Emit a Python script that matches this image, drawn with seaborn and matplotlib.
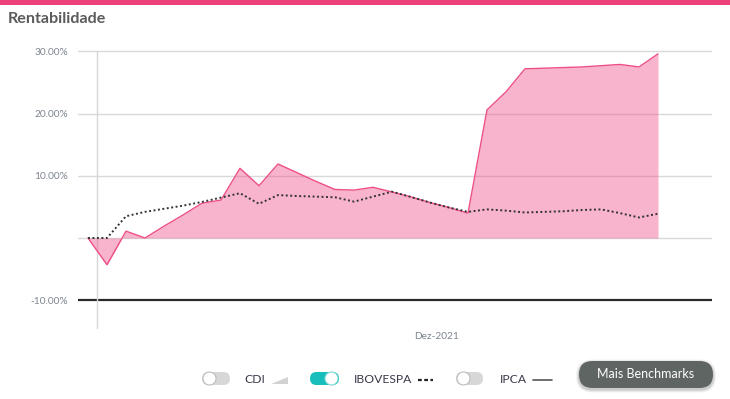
import matplotlib
matplotlib.use("Agg")
import matplotlib.pyplot as plt
import seaborn as sns
import pandas as pd
from matplotlib.patches import FancyBboxPatch, Circle, Polygon, Rectangle

# ---------------- data ----------------
fund_returns = [0, -4.3, 1.1, 0, 1.9, 3.7, 5.6, 6.1, 11.2, 8.4, 11.9, 10.5, 9.1,
                7.8, 7.7, 8.15, 7.4, 6.6, 5.7, 4.9, 4.0, 20.6, 23.5, 27.2, 27.3,
                27.4, 27.5, 27.7, 27.9, 27.5, 29.6]
ibovespa = [0, 0, 3.5, 4.2, 4.7, 5.2, 5.8, 6.5, 7.2, 5.5, 6.9, 6.75, 6.65, 6.55,
            5.85, 6.65, 7.45, 6.6, 5.7, 4.9, 4.2, 4.6, 4.4, 4.1, 4.2, 4.3, 4.5,
            4.6, 4.0, 3.3, 3.9]
y_ticks = [30, 20, 10, 0, -10]
y_tick_labels = ["30.00%", "20.00%", "10.00%", "", "-10.00%"]
x_tick_label = ["Dez-2021"]
legend_items = ["CDI", "IBOVESPA", "IPCA"]
title = "Rentabilidade"
button_text = "Mais Benchmarks"

df = pd.DataFrame({"i": range(len(fund_returns)), "fund": fund_returns, "ibov": ibovespa})

# ---------------- figure ----------------
sns.set_style("white")
plt.rcParams["font.family"] = ["Lato", "DejaVu Sans"]

W, H = 730, 399
fig = plt.figure(figsize=(W / 100, H / 100), dpi=100)

# main axes in pixel geometry
ax_left, ax_right, ax_top, ax_bottom = 78, 712, 44.8, 330
ax = fig.add_axes([ax_left / W, (H - ax_bottom) / H, (ax_right - ax_left) / W, (ax_bottom - ax_top) / H])

pink = "#ee4d86"
ax.set_xlim(-10 / 19, (712 - 88) / 19)
ax.set_ylim(-14.79, 31.06)

# gridlines
for v in [30, 20, 10, 0]:
    ax.axhline(v, color="#d9d9d9", lw=1.0, zorder=1)
ax.axhline(-10, color="#2a2a2a", lw=1.6, zorder=1)
ax.plot([9 / 19, 9 / 19], [-14.47, 30], color="#d6d6d6", lw=1.0, zorder=1)

# area
ax.fill_between(df["i"], 0, df["fund"], color=pink, alpha=0.42, lw=0, zorder=2)
sns.lineplot(data=df, x="i", y="fund", ax=ax, color=pink, lw=1.0, zorder=3)
sns.lineplot(data=df, x="i", y="ibov", ax=ax, color="#333333", lw=1.4,
             linestyle=(0, (1, 1.3)), zorder=4)

for s in ax.spines.values():
    s.set_visible(False)
ax.set_xlabel("")
ax.set_ylabel("")
ax.set_yticks(y_ticks)
ax.set_yticklabels(y_tick_labels)
ax.set_xticks([(437 - 88) / 19])
ax.set_xticklabels(x_tick_label)
ax.tick_params(axis="y", length=0, pad=7, labelsize=7.3, labelcolor="#7d8590")
ax.tick_params(axis="x", length=0, pad=1.5, labelsize=7.3, labelcolor="#7d8590")
ax.grid(False)
ax.set_facecolor("none")

# overlay axes in pixel coordinates
ov = fig.add_axes([0, 0, 1, 1])
ov.set_xlim(0, W)
ov.set_ylim(H, 0)
ov.axis("off")
ov.patch.set_alpha(0)

ov.add_patch(Rectangle((0, 0), W, 4.5, color="#ec407a", lw=0))
ov.text(8, 19, title, fontsize=11.6, fontweight="bold", color="#5b5b5b", va="center", ha="left")

def toggle(x0, x1, on):
    yc, h = 378.5, 13
    track = "#17bebb" if on else "#d7d7d7"
    ov.add_patch(FancyBboxPatch((x0, yc - h / 2), x1 - x0, h,
                                boxstyle=f"round,pad=0,rounding_size={h/2}",
                                fc=track, ec="none"))
    kx = x1 - 7.5 if on else x0 + 7.5
    ov.add_patch(Circle((kx, yc), 6.5, fc="white", ec=("#7fd9d7" if on else "#bdbdbd"), lw=0.8))

toggle(202, 230, False)
toggle(310, 339, True)
toggle(456, 483, False)

txt_kw = dict(fontsize=8.7, color="#3a3a4a", va="center", ha="left")
ov.text(244, 379.5, legend_items[0], **txt_kw)
ov.text(354, 379.5, legend_items[1], **txt_kw)
ov.text(500, 379.5, legend_items[2], **txt_kw)

ov.add_patch(Polygon([(271, 384), (288, 384), (288, 376.5)], closed=True, fc="#d2d2d2", ec="none"))
ov.plot([418, 433], [379.5, 379.5], color="#222222", lw=1.6, dashes=(1.7, 1.1), solid_capstyle="butt")
ov.plot([533, 552], [379.5, 379.5], color="#555555", lw=1.2)

# button with soft shadow
for k, a in [(3, 0.05), (2, 0.07), (1, 0.09)]:
    ov.add_patch(FancyBboxPatch((579 - k, 361 - k + 1.5), 134 + 2 * k, 27 + 2 * k,
                                boxstyle=f"round,pad=0,rounding_size={13.5 + k}",
                                fc="black", ec="none", alpha=a))
ov.add_patch(FancyBboxPatch((579, 361), 134, 27,
                            boxstyle="round,pad=0,rounding_size=13.5",
                            fc="#5f6563", ec="none"))
ov.text(646, 374.5, button_text, fontsize=9, color="white", va="center", ha="center")

fig.savefig("out.png", dpi=100)
